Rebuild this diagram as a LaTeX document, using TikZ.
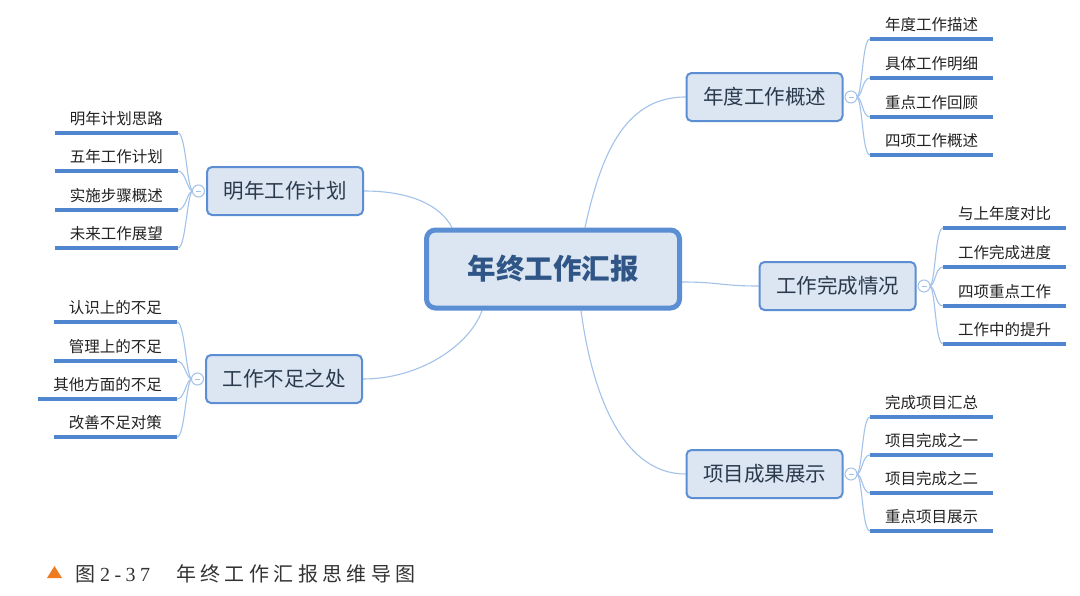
\documentclass[tikz,border=0pt]{standalone}
\usepackage{fontspec}
\newfontfamily\cjk{Noto Sans CJK SC}
\newfontfamily\cjkcap[LetterSpace=22]{Noto Sans CJK SC}
\newfontfamily\latcap[LetterSpace=22]{Liberation Serif}
\usetikzlibrary{backgrounds,calc}
\definecolor{nodefill}{HTML}{DCE6F2}
\definecolor{nodeborder}{HTML}{5B8ED2}
\definecolor{conncol}{HTML}{A3C2EA}
\definecolor{leafcol}{HTML}{4F86CF}
\definecolor{ctrtext}{HTML}{2F5687}
\definecolor{midtext}{HTML}{2A3A4C}
\definecolor{leaftext}{HTML}{222222}
\definecolor{capor}{HTML}{F07B1C}
\definecolor{captext}{HTML}{333333}
\begin{document}
\begin{tikzpicture}[x=1pt,y=-1pt,
 centerbox/.style={draw=nodeborder, fill=nodefill, line width=5pt, rounded corners=9pt, minimum width=253pt, minimum height=78pt, inner sep=0pt, font=\cjk\bfseries\fontsize{28.5}{30}\selectfont, text=ctrtext},
 topic/.style={draw=nodeborder, fill=nodefill, line width=2pt, rounded corners=5pt, minimum width=156pt, minimum height=48pt, inner sep=0pt, font=\cjk\fontsize{20.5}{22}\selectfont, text=midtext},
 leafr/.style={anchor=south west, inner xsep=15pt, inner ysep=0pt, text height=12pt, text depth=8pt, font=\cjk\fontsize{15.5}{17}\selectfont, text=leaftext},
 leafl/.style={leafr, anchor=south east},
 uline/.style={draw=leafcol, line width=3.5pt},
 conn/.style={draw=conncol, line width=1.1pt},
 fold/.style={circle, draw=conncol, fill=white, line width=1pt, minimum size=12pt, inner sep=0pt,
   path picture={\draw[draw=conncol, line width=0.8pt] ([xshift=-2.5pt]path picture bounding box.center) -- ([xshift=2.5pt]path picture bounding box.center);}},
]
\useasboundingbox (0,0) rectangle (1080,595);

% main nodes
\node[centerbox] (ctr) at (553,269) {年终工作汇报};
\node[topic] (t1) at (764.5,97) {年度工作概述};
\node[topic] (t2) at (285,191) {明年工作计划};
\node[topic] (t3) at (837.5,286) {工作完成情况};
\node[topic] (t4) at (284,379) {工作不足之处};
\node[topic] (t5) at (764.5,474) {项目成果展示};

\begin{pgfonlayer}{background}
\fill[white] (0,0) rectangle (1080,595);
\draw[conn] ($(ctr.north)+(32,0)$) .. controls (600,160) and (622,97) .. (t1.west);
\draw[conn] ($(ctr.north)+(-101,0)$) .. controls (440,205) and (410,191) .. (t2.east);
\draw[conn] ($(ctr.east)+(0,13)$) .. controls (720,282) and (720,286) .. (t3.west);
\draw[conn] ($(ctr.south)+(-71,0)$) .. controls (470,345) and (420,379) .. (t4.east);
\draw[conn] ($(ctr.south)+(28,0)$) .. controls (593,400) and (625,474) .. (t5.west);
\end{pgfonlayer}

% leaves of t1
\node[leafr] (a1) at (870,39) {年度工作描述};
\node[leafr] (a2) at (870,78) {具体工作明细};
\node[leafr] (a3) at (870,117) {重点工作回顾};
\node[leafr] (a4) at (870,155) {四项工作概述};
% leaves of t2
\node[leafl] (b1) at (178,133) {明年计划思路};
\node[leafl] (b2) at (178,171) {五年工作计划};
\node[leafl] (b3) at (178,210) {实施步骤概述};
\node[leafl] (b4) at (178,248) {未来工作展望};
% leaves of t3
\node[leafr] (c1) at (943,228) {与上年度对比};
\node[leafr] (c2) at (943,267) {工作完成进度};
\node[leafr] (c3) at (943,306) {四项重点工作};
\node[leafr] (c4) at (943,344) {工作中的提升};
% leaves of t4
\node[leafl] (d1) at (177,322) {认识上的不足};
\node[leafl] (d2) at (177,361) {管理上的不足};
\node[leafl] (d3) at (177,399) {其他方面的不足};
\node[leafl] (d4) at (177,437) {改善不足对策};
% leaves of t5
\node[leafr] (e1) at (870,417) {完成项目汇总};
\node[leafr] (e2) at (870,455) {项目完成之一};
\node[leafr] (e3) at (870,493) {项目完成之二};
\node[leafr] (e4) at (870,531) {重点项目展示};

\foreach \n in {a1,a2,a3,a4,b1,b2,b3,b4,c1,c2,c3,c4,d1,d2,d3,d4,e1,e2,e3,e4}
  \draw[uline] (\n.south west) -- (\n.south east);

% right-side branch curves
\foreach \f/\t in {1/a,3/c,5/e}{
  \foreach \i in {1,2,3,4}
    \draw[conn] ($(t\f.east)+(13,0)$) .. controls +(6,0) and +(-8,0) .. (\t\i.south west);
}
% left-side branch curves
\foreach \f/\t in {2/b,4/d}{
  \foreach \i in {1,2,3,4}
    \draw[conn] ($(t\f.west)+(-13,0)$) .. controls +(-6,0) and +(8,0) .. (\t\i.south east);
}

% fold markers
\node[fold] (f1) at ($(t1.east)+(7.5,0)$) {};
\node[fold] (f2) at ($(t2.west)+(-7.5,0)$) {};
\node[fold] (f3) at ($(t3.east)+(7.5,0)$) {};
\node[fold] (f4) at ($(t4.west)+(-7.5,0)$) {};
\node[fold] (f5) at ($(t5.east)+(7.5,0)$) {};

% caption
\fill[capor] (47,578) -- (62,578) -- (54.5,566) -- cycle;
\node[anchor=base west, inner sep=0pt, text=captext, font=\fontsize{20}{22}\selectfont] (cap) at (75,581)
  {{\cjkcap 图}\hspace{5pt}{\latcap 2-37}\hspace{26pt}{\cjkcap 年终工作汇报思维导图}};
\end{tikzpicture}
\end{document}
